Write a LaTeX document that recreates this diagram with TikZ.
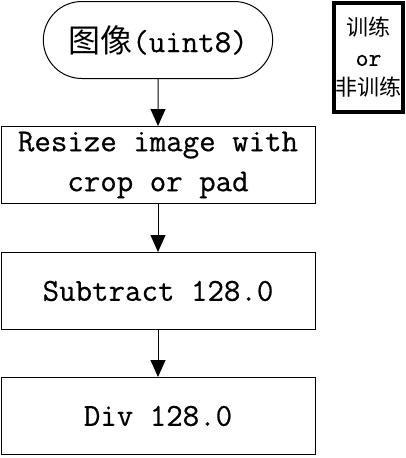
\documentclass[tikz,border=0pt]{standalone}
\usepackage{fontspec}
\setmonofont[FakeBold=0.5]{Latin Modern Mono}
\newfontfamily\cjk{Noto Sans CJK SC}
\usetikzlibrary{shapes.misc,positioning,arrows.meta}

\tikzset{
    stepbox/.style={draw, line width=1pt, minimum width=314pt, minimum height=77pt, align=center, font=\fontsize{32}{40}\selectfont\ttfamily},
    flow/.style={line width=1pt, -{Triangle[width=15pt,length=17pt]}}
}

\begin{document}
\begin{tikzpicture}[x=1pt,y=1pt]
    \useasboundingbox (0,0) rectangle (406,-458);
    \node[draw, rounded rectangle, line width=1pt, minimum width=236pt, minimum height=77pt, font=\fontsize{32}{36}\selectfont\ttfamily] (img) at (158,-40) {{\cjk 图像}(uint8)};
    \node[stepbox, below=47pt of img] (resize) {Resize image with\\crop or pad};
    \node[stepbox, below=48pt of resize] (sub) {Subtract 128.0};
    \node[stepbox, below=47pt of sub] (div) {Div 128.0};

    \draw[flow] (img) -- (resize);
    \draw[flow] (resize) -- (sub);
    \draw[flow] (sub) -- (div);

    % legend
    \node[draw, line width=4pt, minimum width=69pt, minimum height=109pt, inner sep=0pt, align=center, font=\fontsize{22}{30}\selectfont] (mode) at (368.5,-57.5) {{\cjk 训练}\\{\ttfamily\fontsize{25}{30}\selectfont or}\\{\cjk 非训练}};
\end{tikzpicture}
\end{document}
